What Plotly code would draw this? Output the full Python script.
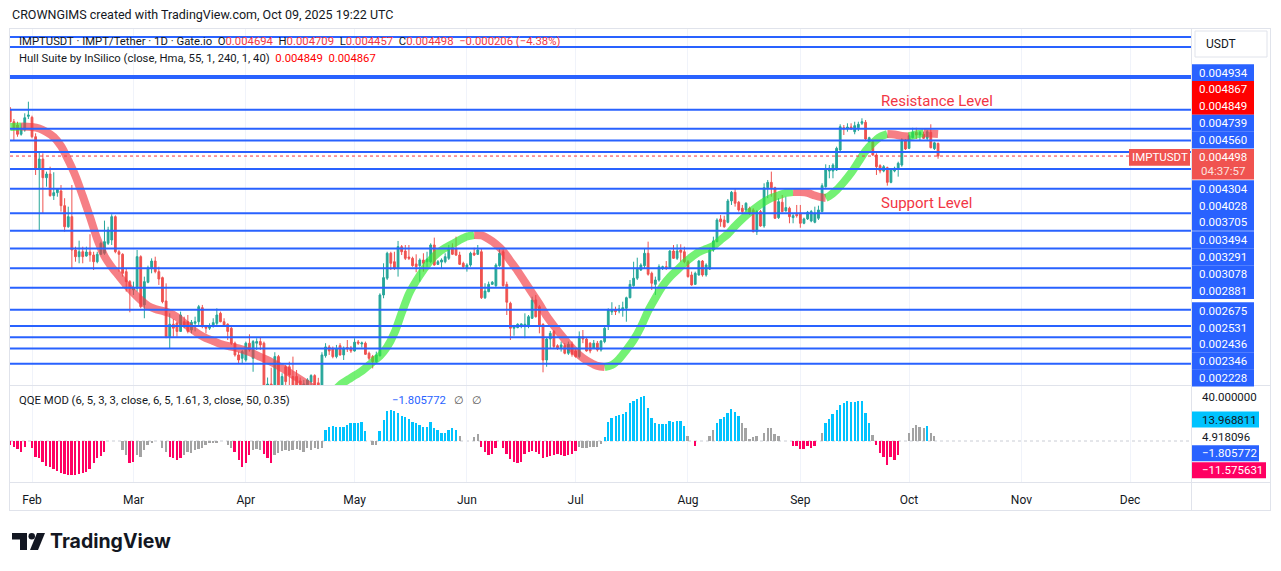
import numpy as np
import pandas as pd
import plotly.graph_objects as go

W, H = 1281, 571
FONT = "Roboto, 'Liberation Sans', sans-serif"
TXT = "#131722"
BLUE = "#2962FF"
RED = "#F23645"
UP = "#26A69A"
DOWN = "#EF5350"

# ---------------- data: daily IMPT/USDT candles, 2025-01-26 .. 2025-10-09 ----------------
FIRST_DAY = "2025-01-26"
open_ = [0.005274, 0.005052, 0.004996, 0.004842, 0.004912, 0.005145, 0.005127, 0.004802, 0.004306, 0.004453,
         0.004180, 0.004233, 0.003934, 0.003974, 0.003997, 0.003803, 0.003541, 0.003664, 0.003273, 0.003200,
         0.003254, 0.003207, 0.003251, 0.003218, 0.003146, 0.003226, 0.003237, 0.003348, 0.003386, 0.003664,
         0.003254, 0.003226, 0.003042, 0.002941, 0.002859, 0.002875, 0.003200, 0.002718, 0.002935, 0.003083,
         0.003153, 0.003042, 0.002981, 0.002755, 0.002441, 0.002546, 0.002557, 0.002485, 0.002568, 0.002568,
         0.002497, 0.002554, 0.002568, 0.002693, 0.002526, 0.002512, 0.002532, 0.002554, 0.002642, 0.002568,
         0.002546, 0.002512, 0.002388, 0.002295, 0.002269, 0.002256, 0.002388, 0.002269, 0.002388, 0.002401,
         0.002388, 0.002024, 0.002080, 0.002004, 0.002282, 0.002024, 0.002205, 0.002205, 0.002133, 0.002133,
         0.002102, 0.002052, 0.002059, 0.002095, 0.002140, 0.002088, 0.002052, 0.002289, 0.002358, 0.002342,
         0.002282, 0.002368, 0.002295, 0.002353, 0.002350, 0.002326, 0.002398, 0.002382, 0.002388, 0.002308,
         0.002282, 0.002243, 0.002289, 0.002811, 0.002975, 0.003237, 0.003146, 0.003077, 0.003310, 0.003262,
         0.003196, 0.003182, 0.003122, 0.003104, 0.003164, 0.003146, 0.003146, 0.003329, 0.003118, 0.003142,
         0.003146, 0.003182, 0.003299, 0.003284, 0.003218, 0.003129, 0.003077, 0.003111, 0.003240, 0.003226,
         0.003254, 0.002785, 0.002843, 0.002914, 0.002901, 0.003104, 0.003254, 0.002914, 0.002733, 0.002512,
         0.002517, 0.002532, 0.002526, 0.002526, 0.002598, 0.002764, 0.002702, 0.002546, 0.002256, 0.002422,
         0.002485, 0.002368, 0.002353, 0.002368, 0.002308, 0.002379, 0.002326, 0.002282, 0.002441, 0.002422,
         0.002388, 0.002347, 0.002388, 0.002334, 0.002401, 0.002526, 0.002654, 0.002672, 0.002663, 0.002672,
         0.002687, 0.002785, 0.002901, 0.002975, 0.003059, 0.003104, 0.003237, 0.003025, 0.002914, 0.002957,
         0.003077, 0.003093, 0.003077, 0.003262, 0.003182, 0.003273, 0.003254, 0.003146, 0.003008, 0.002914,
         0.003008, 0.003153, 0.003008, 0.003069, 0.003273, 0.003367, 0.003636, 0.003623, 0.003595, 0.003864,
         0.003979, 0.003847, 0.003770, 0.003748, 0.003770, 0.003748, 0.003482, 0.003727, 0.003550, 0.004041,
         0.004115, 0.004041, 0.003652, 0.003847, 0.003736, 0.003770, 0.003652, 0.003694, 0.003706, 0.003583,
         0.003636, 0.003611, 0.003595, 0.003644, 0.003727, 0.004055, 0.004276, 0.004276, 0.004291, 0.004591,
         0.004950, 0.004929, 0.004962, 0.004884, 0.004950, 0.005025, 0.005042, 0.004722, 0.004722, 0.004514,
         0.004354, 0.004276, 0.004324, 0.004115, 0.004276, 0.004306, 0.004364, 0.004733, 0.004617, 0.004786,
         0.004874, 0.004830, 0.004842, 0.004776, 0.004874, 0.004612, 0.004694]
high = [0.005310, 0.005099, 0.005052, 0.005025, 0.005198, 0.005406, 0.005156, 0.004858, 0.004564, 0.004540,
        0.004267, 0.004339, 0.004258, 0.004033, 0.004078, 0.003900, 0.003790, 0.004078, 0.003310, 0.003378,
        0.003310, 0.003310, 0.003452, 0.003254, 0.003254, 0.003367, 0.003615, 0.003541, 0.003694, 0.003680,
        0.003273, 0.003237, 0.003077, 0.002957, 0.002941, 0.003273, 0.003215, 0.002991, 0.003104, 0.003182,
        0.003200, 0.003093, 0.002991, 0.002924, 0.002642, 0.002592, 0.002568, 0.002657, 0.002612, 0.002627,
        0.002583, 0.002612, 0.002718, 0.002718, 0.002540, 0.002554, 0.002598, 0.002687, 0.002657, 0.002598,
        0.002554, 0.002526, 0.002401, 0.002321, 0.002334, 0.002401, 0.002461, 0.002414, 0.002428, 0.002433,
        0.002401, 0.002126, 0.002198, 0.002316, 0.002295, 0.002157, 0.002218, 0.002243, 0.002282, 0.002181,
        0.002126, 0.002109, 0.002121, 0.002150, 0.002150, 0.002124, 0.002316, 0.002388, 0.002374, 0.002361,
        0.002374, 0.002388, 0.002361, 0.002414, 0.002366, 0.002428, 0.002414, 0.002401, 0.002401, 0.002321,
        0.002295, 0.002321, 0.002827, 0.003129, 0.003254, 0.003254, 0.003254, 0.003375, 0.003329, 0.003329,
        0.003329, 0.003200, 0.003226, 0.003182, 0.003237, 0.003254, 0.003348, 0.003413, 0.003164, 0.003182,
        0.003237, 0.003329, 0.003348, 0.003424, 0.003254, 0.003146, 0.003129, 0.003254, 0.003299, 0.003329,
        0.003292, 0.002925, 0.002941, 0.002947, 0.003129, 0.003284, 0.003284, 0.002941, 0.002748, 0.002540,
        0.002554, 0.002554, 0.002642, 0.002627, 0.002795, 0.002811, 0.002718, 0.002554, 0.002433, 0.002489,
        0.002497, 0.002379, 0.002401, 0.002388, 0.002401, 0.002401, 0.002347, 0.002485, 0.002497, 0.002433,
        0.002396, 0.002414, 0.002406, 0.002414, 0.002526, 0.002687, 0.002743, 0.002702, 0.002718, 0.002748,
        0.002795, 0.002957, 0.003146, 0.003189, 0.003129, 0.003284, 0.003367, 0.003042, 0.002991, 0.003118,
        0.003104, 0.003153, 0.003273, 0.003329, 0.003337, 0.003337, 0.003310, 0.003164, 0.003042, 0.003042,
        0.003164, 0.003164, 0.003129, 0.003299, 0.003424, 0.003644, 0.003685, 0.003676, 0.003890, 0.003997,
        0.004024, 0.003864, 0.003812, 0.003847, 0.003790, 0.003770, 0.003748, 0.003748, 0.004102, 0.004148,
        0.004267, 0.004055, 0.003900, 0.003943, 0.003920, 0.003790, 0.003706, 0.003812, 0.003812, 0.003652,
        0.003736, 0.003748, 0.003790, 0.003803, 0.004102, 0.004374, 0.004364, 0.004389, 0.004643, 0.005008,
        0.004996, 0.005025, 0.005025, 0.005052, 0.005052, 0.005111, 0.005081, 0.004802, 0.004749, 0.004540,
        0.004374, 0.004364, 0.004339, 0.004306, 0.004339, 0.004413, 0.004776, 0.004765, 0.004842, 0.004950,
        0.004950, 0.004895, 0.004884, 0.004912, 0.005008, 0.004722, 0.004709]
low = [0.005039, 0.004733, 0.004802, 0.004819, 0.004884, 0.005099, 0.004776, 0.004219, 0.003502, 0.003706,
       0.004055, 0.003920, 0.003877, 0.003920, 0.003727, 0.003482, 0.003529, 0.003069, 0.003146, 0.003129,
       0.003129, 0.003200, 0.003146, 0.003059, 0.003129, 0.003218, 0.003220, 0.003329, 0.003329, 0.003237,
       0.003042, 0.002991, 0.002843, 0.002651, 0.002811, 0.002843, 0.002687, 0.002598, 0.002925, 0.003025,
       0.003025, 0.002908, 0.002733, 0.002428, 0.002348, 0.002441, 0.002441, 0.002480, 0.002512, 0.002469,
       0.002469, 0.002485, 0.002540, 0.002512, 0.002469, 0.002497, 0.002517, 0.002526, 0.002563, 0.002534,
       0.002414, 0.002374, 0.002282, 0.002231, 0.002231, 0.002243, 0.002321, 0.002168, 0.002334, 0.002334,
       0.001970, 0.001970, 0.001970, 0.001970, 0.001984, 0.001997, 0.002066, 0.002052, 0.002004, 0.002018,
       0.002024, 0.002024, 0.002038, 0.002066, 0.002038, 0.002038, 0.002024, 0.002274, 0.002295, 0.002269,
       0.002269, 0.002289, 0.002256, 0.002318, 0.002311, 0.002321, 0.002374, 0.002353, 0.002295, 0.002256,
       0.002193, 0.002231, 0.002282, 0.002780, 0.002957, 0.003059, 0.003059, 0.002991, 0.003218, 0.003164,
       0.003164, 0.003093, 0.003036, 0.002941, 0.003042, 0.003093, 0.003129, 0.003104, 0.003111, 0.003069,
       0.003129, 0.003164, 0.003218, 0.003207, 0.003111, 0.003077, 0.003042, 0.003093, 0.003207, 0.003218,
       0.002773, 0.002773, 0.002837, 0.002908, 0.002881, 0.003093, 0.002891, 0.002627, 0.002414, 0.002449,
       0.002512, 0.002512, 0.002428, 0.002512, 0.002592, 0.002604, 0.002469, 0.002164, 0.002205, 0.002348,
       0.002348, 0.002334, 0.002321, 0.002300, 0.002295, 0.002282, 0.002274, 0.002269, 0.002388, 0.002321,
       0.002308, 0.002342, 0.002321, 0.002321, 0.002388, 0.002497, 0.002627, 0.002627, 0.002642, 0.002612,
       0.002568, 0.002780, 0.002891, 0.002957, 0.003049, 0.003077, 0.003001, 0.002859, 0.002811, 0.002941,
       0.003059, 0.003059, 0.003069, 0.003175, 0.003164, 0.003146, 0.003129, 0.002981, 0.002901, 0.002908,
       0.003001, 0.002991, 0.002991, 0.003059, 0.003254, 0.003360, 0.003541, 0.003529, 0.003583, 0.003812,
       0.003790, 0.003727, 0.003706, 0.003727, 0.003685, 0.003475, 0.003444, 0.003541, 0.003529, 0.003900,
       0.003920, 0.003636, 0.003636, 0.003719, 0.003727, 0.003583, 0.003583, 0.003652, 0.003529, 0.003571,
       0.003623, 0.003595, 0.003583, 0.003623, 0.003719, 0.004041, 0.004172, 0.004172, 0.004276, 0.004575,
       0.004830, 0.004884, 0.004912, 0.004842, 0.004895, 0.004996, 0.004749, 0.004713, 0.004503, 0.004219,
       0.004243, 0.004258, 0.004069, 0.004102, 0.004258, 0.004195, 0.004339, 0.004591, 0.004607, 0.004776,
       0.004765, 0.004749, 0.004765, 0.004749, 0.004617, 0.004591, 0.004457]
close = [0.005052, 0.004940, 0.004842, 0.004940, 0.005120, 0.005168, 0.004802, 0.004306, 0.004453, 0.004180,
         0.004233, 0.003934, 0.003974, 0.004019, 0.003803, 0.003541, 0.003664, 0.003273, 0.003200, 0.003254,
         0.003200, 0.003251, 0.003218, 0.003146, 0.003226, 0.003348, 0.003367, 0.003502, 0.003664, 0.003254,
         0.003226, 0.003025, 0.002941, 0.002875, 0.002881, 0.003200, 0.002702, 0.002941, 0.003083, 0.003153,
         0.003042, 0.002967, 0.002748, 0.002441, 0.002546, 0.002512, 0.002485, 0.002627, 0.002540, 0.002485,
         0.002563, 0.002568, 0.002702, 0.002526, 0.002512, 0.002534, 0.002560, 0.002627, 0.002568, 0.002540,
         0.002485, 0.002388, 0.002295, 0.002256, 0.002321, 0.002388, 0.002334, 0.002401, 0.002401, 0.002374,
         0.002024, 0.002080, 0.002024, 0.002282, 0.002024, 0.002133, 0.002097, 0.002145, 0.002052, 0.002066,
         0.002066, 0.002080, 0.002109, 0.002140, 0.002066, 0.002066, 0.002295, 0.002358, 0.002326, 0.002282,
         0.002342, 0.002295, 0.002347, 0.002342, 0.002326, 0.002396, 0.002388, 0.002390, 0.002300, 0.002269,
         0.002243, 0.002295, 0.002811, 0.002981, 0.003237, 0.003129, 0.003077, 0.003310, 0.003254, 0.003182,
         0.003182, 0.003104, 0.003093, 0.003164, 0.003129, 0.003175, 0.003329, 0.003111, 0.003146, 0.003164,
         0.003200, 0.003292, 0.003226, 0.003218, 0.003118, 0.003093, 0.003111, 0.003237, 0.003218, 0.003273,
         0.002785, 0.002849, 0.002914, 0.002935, 0.003111, 0.003237, 0.002901, 0.002743, 0.002512, 0.002526,
         0.002546, 0.002549, 0.002546, 0.002612, 0.002764, 0.002612, 0.002540, 0.002256, 0.002422, 0.002469,
         0.002361, 0.002347, 0.002374, 0.002308, 0.002379, 0.002300, 0.002282, 0.002441, 0.002422, 0.002326,
         0.002326, 0.002388, 0.002334, 0.002406, 0.002512, 0.002672, 0.002672, 0.002657, 0.002681, 0.002693,
         0.002785, 0.002914, 0.002975, 0.003077, 0.003111, 0.003237, 0.003015, 0.002925, 0.002957, 0.003093,
         0.003093, 0.003077, 0.003262, 0.003182, 0.003262, 0.003248, 0.003146, 0.002991, 0.002908, 0.003025,
         0.003153, 0.003008, 0.003111, 0.003273, 0.003375, 0.003623, 0.003601, 0.003541, 0.003864, 0.003979,
         0.003834, 0.003748, 0.003727, 0.003834, 0.003706, 0.003482, 0.003727, 0.003550, 0.004041, 0.004115,
         0.004041, 0.003644, 0.003855, 0.003727, 0.003778, 0.003664, 0.003676, 0.003676, 0.003583, 0.003636,
         0.003719, 0.003727, 0.003706, 0.003748, 0.004069, 0.004291, 0.004316, 0.004364, 0.004617, 0.004967,
         0.004929, 0.004962, 0.004929, 0.004985, 0.005008, 0.005052, 0.004765, 0.004786, 0.004514, 0.004339,
         0.004276, 0.004339, 0.004115, 0.004291, 0.004316, 0.004389, 0.004749, 0.004607, 0.004819, 0.004874,
         0.004830, 0.004874, 0.004776, 0.004884, 0.004627, 0.004704, 0.004498]

# Hull Suite (HMA 55) centre line, sampled: day offset from 2025-02-01 and price
hull_day = [-6, -3, 0, 2, 4, 6, 8, 10, 12, 14, 16, 18, 20, 22, 24, 26, 28, 30, 32, 34, 36, 38, 40, 42, 44,
            46, 48, 50, 52, 54, 57, 60, 63, 66, 69, 72, 75, 78, 81, 83, 85, 88, 91, 94, 96, 98, 100, 102,
            104, 106, 108, 110, 112, 114, 116, 118, 120, 122, 124, 126, 128, 130, 132, 134, 136, 138, 140,
            142, 144, 146, 148, 150, 152, 154, 156, 158, 160, 162, 164, 166, 168, 170, 172, 174, 176, 178,
            180, 182, 184, 186, 188, 190, 192, 194, 196, 198, 200, 202, 204, 206, 208, 210, 212, 214, 216,
            218, 219, 220, 222, 224, 226, 228, 230, 232, 234, 236, 238, 240, 242, 244, 246, 248, 250]
hull_value = [0.004962, 0.004971, 0.004962, 0.004937, 0.004879, 0.004798, 0.004653, 0.004438, 0.004205,
              0.003930, 0.003660, 0.003397, 0.003207, 0.003090, 0.002998, 0.002908, 0.002830, 0.002764,
              0.002709, 0.002681, 0.002663, 0.002645, 0.002609, 0.002557, 0.002506, 0.002463, 0.002430,
              0.002406, 0.002382, 0.002366, 0.002346, 0.002318, 0.002280, 0.002241, 0.002196, 0.002145,
              0.002095, 0.002045, 0.002018, 0.002024, 0.002073, 0.002124, 0.002174, 0.002241, 0.002287,
              0.002358, 0.002472, 0.002645, 0.002821, 0.002947, 0.003059, 0.003164, 0.003240, 0.003296,
              0.003340, 0.003386, 0.003426, 0.003444, 0.003438, 0.003397, 0.003340, 0.003262, 0.003153,
              0.003049, 0.002937, 0.002830, 0.002727, 0.002618, 0.002532, 0.002455, 0.002382, 0.002318,
              0.002272, 0.002237, 0.002211, 0.002203, 0.002218, 0.002264, 0.002334, 0.002414, 0.002523,
              0.002663, 0.002783, 0.002898, 0.002988, 0.003059, 0.003132, 0.003196, 0.003251, 0.003284,
              0.003318, 0.003386, 0.003455, 0.003550, 0.003636, 0.003716, 0.003787, 0.003851, 0.003904,
              0.003936, 0.003970, 0.003984, 0.003982, 0.003970, 0.003936, 0.003910, 0.003904, 0.003930,
              0.004010, 0.004120, 0.004248, 0.004408, 0.004575, 0.004701, 0.004798, 0.004846, 0.004838,
              0.004814, 0.004806, 0.004838, 0.004862, 0.004854, 0.004846]
HULL_LAST = [0.004849, 0.004867]

# horizontal levels drawn on the chart
levels = [0.006729, 0.006505, 0.005897, 0.005857, 0.005262, 0.004934, 0.004739, 0.004560, 0.004304,
          0.004028, 0.003705, 0.003494, 0.003291, 0.003078, 0.002881, 0.002675, 0.002531, 0.002436,
          0.002346, 0.002228]
# levels whose price tags are visible on the price scale
tagged_levels = [0.004934, 0.004739, 0.004560, 0.004304, 0.004028, 0.003705, 0.003494, 0.003291,
                 0.003078, 0.002881, 0.002675, 0.002531, 0.002436, 0.002346, 0.002228]

# QQE MOD histogram (one bar per candle) and colour state: c=cyan, g=gray, p=pink
qqe = [-4, -5.2, -7, -9.7, -5.2, 0, -6.7, -14.2, -15.8, -18.8,
       -22.7, -24, -25.5, -27, -28.8, -29.7, -30.6, -30.9, -30.9, -30.3,
       -29.4, -27.9, -25, -20, -15.8, -14, -10, 0, 0, 0,
       0, -8.2, -12.7, -20.3, -18.8, -12.7, -14.2, -8.2, -3.6, -1,
       0, 0, -6.7, -9.7, -14.2, -15.8, -17.3, -15.8, -12.7, -9.7,
       -10.6, -8.2, -7, -6.7, -3.6, -2.1, -2.1, -1.5, 0, 0,
       -3.6, -6.7, -9.7, -17.3, -24, -20, -13, -8, -7, -8.5,
       -11.5, -15, -20.3, -13, -11.2, -9, -8.2, -8.8, -8.2, -7.6,
       -8.2, -9.7, -6.7, -8.2, -6.7, -7.6, -6, 10, 13, 13.6,
       13, 13, 13, 14.5, 16, 16, 16.7, 17, 9.4, 0,
       -3.6, -3.6, 9.4, 19, 27.6, 28.2, 27.6, 25.8, 22.7, 21.5,
       19.7, 17, 16, 14.5, 13, 13, 17.6, 12, 10, 7.6,
       7.6, 10, 11.5, 10, 4.5, 0, 0, 0, 3.3, 6.4,
       -5.2, -9.7, -12.7, -11.8, -6.7, 0, -6.7, -11.8, -16.7, -18.8,
       -19.7, -18.8, -12, -9.7, -8.8, -9.7, -12, -15.8, -14.2, -13.6,
       -12.7, -11.8, -12.7, -13.6, -12.5, -11.8, -8.8, -5.2, -6.7, -6.7,
       -5.2, -5.2, -5.2, -3, 3.3, 17.6, 20.6, 22.7, 23.6, 25,
       26.7, 34.2, 36.7, 38, 39.7, 40.9, 29.7, 21.2, 16, 15.2,
       15.2, 15.2, 18.2, 17.6, 18.2, 18.2, 13.6, 4.5, 0, -4.2,
       0, 0, 0, 4.5, 10, 16.7, 19.7, 22, 25.8, 28.8,
       26.4, 22.7, 16.7, 11.5, 2, 3.9, 4.5, 0, 7, 11.5,
       11.5, 6, 4.5, 0, 0, 0, -4.2, -4.2, -7.3, -7.3,
       -4.2, -6, -4.2, 0, 7.6, 16, 19.7, 24.2, 28.2, 32.7,
       34.2, 36, 35.5, 35.5, 36.4, 36.4, 25.2, 16.7, 5.5, -3.6,
       -11.2, -14.8, -21.8, -14.2, -17.3, -12.7, 0, 0, 7.6, 11.5,
       14.5, 13, 12.1, 13.6, 7.6, 4.5, 0]
qqe_state = ("pppppgpppp" "pppppppppp" "pppppppggg" "gggppggggg" "ggggppppgg"
             "gggggggggg" "ggpppppggg" "pppggggggg" "gggggggccc" "cccccccccg"
             "ggcccccccc" "cccccccccc" "ccccgggggg" "pppppgpppp" "pppppppppp"
             "pppppppggg" "ggggcccccc" "cccccccccc" "cccccccggp" "gggggccccc"
             "ccgggggggg" "ggggggpppp" "pppggccccc" "ccccccccgp" "ppppppgggg"
             "gggcggg")
QQE_TAGS = [("40.000000", None), ("13.968811", "#00C3FF"), ("4.918096", None),
            ("\u22121.805772", BLUE), ("\u221211.575631", "#FF0062")]
QQE_PARAMS = "QQE MOD (6, 5, 3, 3, close, 6, 5, 1.61, 3, close, 50, 0.35)"

months = ["2025-02-01", "2025-03-01", "2025-04-01", "2025-05-01", "2025-06-01", "2025-07-01",
          "2025-08-01", "2025-09-01", "2025-10-01", "2025-11-01", "2025-12-01"]
month_labels = ["Feb", "Mar", "Apr", "May", "Jun", "Jul", "Aug", "Sep", "Oct", "Nov", "Dec"]

# ---------------- figure ----------------
dates = pd.date_range(FIRST_DAY, periods=len(close), freq="D")
hull_x = pd.Timestamp("2025-02-01") + pd.to_timedelta(hull_day, unit="D")


def px(x):
    return x / W


def py(y):
    return 1 - y / H


fig = go.Figure()

# Hull band: split into rising (green) / falling (red) runs
hv = np.array(hull_value)
dirs = np.sign(np.diff(hv))
runs = []
s = 0
for i in range(1, len(dirs) + 1):
    if i == len(dirs) or dirs[i] != dirs[s]:
        runs.append((s, i, dirs[s]))
        s = i
for a, b, d in runs:
    col = "rgba(50,235,50,0.68)" if d > 0 else "rgba(242,60,70,0.66)"
    fig.add_trace(go.Scatter(x=hull_x[a:b + 1], y=hv[a:b + 1], mode="lines",
                             line=dict(color=col, width=8, shape="spline", smoothing=0.8),
                             hoverinfo="skip", showlegend=False, xaxis="x", yaxis="y"))

fig.add_trace(go.Candlestick(x=dates, open=open_, high=high, low=low, close=close,
                             increasing=dict(line=dict(color=UP, width=1), fillcolor=UP),
                             decreasing=dict(line=dict(color=DOWN, width=1), fillcolor=DOWN),
                             whiskerwidth=0, showlegend=False, xaxis="x", yaxis="y"))

cmap = {"c": "#00C3FF", "g": "#A3A3A3", "p": "#FF0062"}
fig.add_trace(go.Bar(x=dates, y=qqe, marker=dict(color=[cmap[c] for c in qqe_state], line_width=0),
                     width=0.55 * 86400000, showlegend=False, xaxis="x", yaxis="y2"))

shapes = []
ann = []


def text(x, y, s, size=11.5, color=TXT, xanchor="left", yanchor="middle", family=FONT):
    ann.append(dict(x=px(x), y=py(y), xref="paper", yref="paper", text=s, showarrow=False,
                    xanchor=xanchor, yanchor=yanchor, font=dict(size=size, color=color, family=family)))


def rect(x0, y0, x1, y1, fill, line="rgba(0,0,0,0)", layer="above"):
    shapes.append(dict(type="rect", xref="paper", yref="paper", x0=px(x0), x1=px(x1), y0=py(y1), y1=py(y0),
                       fillcolor=fill, line=dict(color=line, width=1), layer=layer))


def hline(x0, x1, y, color="#E0E3EB", width=1):
    shapes.append(dict(type="line", xref="paper", yref="paper", x0=px(x0), x1=px(x1), y0=py(y), y1=py(y),
                       line=dict(color=color, width=width)))


def vline(x, y0, y1, color="#E0E3EB", width=1):
    shapes.append(dict(type="line", xref="paper", yref="paper", x0=px(x), x1=px(x), y0=py(y0), y1=py(y1),
                       line=dict(color=color, width=width)))


# user-drawn levels
for v in levels:
    shapes.append(dict(type="line", xref="paper", yref="y", x0=px(10), x1=px(1191), y0=v, y1=v,
                       line=dict(color=BLUE, width=2)))
# last-price dotted line
shapes.append(dict(type="line", xref="paper", yref="y", x0=px(10), x1=px(1129), y0=close[-1], y1=close[-1],
                   line=dict(color=RED, width=1, dash="dot")))
# QQE zero line
shapes.append(dict(type="line", xref="paper", yref="y2", x0=px(10), x1=px(1191), y0=0, y1=0,
                   line=dict(color="#C9CCD4", width=1, dash="dot"), layer="below"))

# frame
hline(9, 1271, 28.5)
hline(9, 1271, 385.5)
hline(9, 1271, 482.5)
hline(9, 1271, 510.5)
vline(9.5, 28, 510)
vline(1191.5, 28, 510)
vline(1270.5, 28, 510)

# price-scale tags (stacked like the original scale)
tag_rows = [(f"{tagged_levels[0]:.6f}", 72.7, BLUE), (f"{HULL_LAST[1]:.6f}", 89.5, "#FF0000"),
            (f"{HULL_LAST[0]:.6f}", 106.4, "#FF0000"), (f"{tagged_levels[1]:.6f}", 123.3, BLUE),
            (f"{tagged_levels[2]:.6f}", 140.1, BLUE)]
for s_, yc in zip(tagged_levels[3:], [188.7, 205.5, 222.4, 239.7, 256.7, 273.6, 290.5, 310.7, 327.5,
                                        344.4, 361.3, 378.0]):
    tag_rows.append((f"{s_:.6f}", yc, BLUE))
for s_, yc, col in tag_rows:
    rect(1192, yc - 8.45, 1254, yc + 8.45, col)
    text(1223, yc, s_, color="white", xanchor="center")
# current price tag with countdown
rect(1192, 148.9, 1254, 179.6, "#F05350")
text(1223, 157.4, f"{close[-1]:.6f}", color="white", xanchor="center")
text(1223, 171.4, "04:37:57", color="#FBE0DF", xanchor="center")
rect(1129, 149, 1190, 165.8, "#F05350")
text(1160, 157.4, "IMPTUSDT", color="white", xanchor="center")
# currency box
rect(1195, 31, 1267, 57, "white", line="#E0E3EB")
text(1204, 44, "USDT", size=12)

# QQE scale tags
qqe_rows = [(397.3, None, 1255), (419.5, "#00C3FF", 1259), (436.8, None, 1255), (453.2, BLUE, 1259),
            (470.2, "#FF0062", 1266)]
for (lbl, col), (yc, bg, xr) in zip(QQE_TAGS, qqe_rows):
    if col is not None:
        rect(1192, yc - 8.0, xr, yc + 8.0, col)
    fc = "white" if col in (BLUE, "#FF0062") else TXT
    text(1200, yc, lbl, color=fc)

# headers / legends
o, hh, ll, cc = open_[-1], high[-1], low[-1], close[-1]
chg = cc - close[-2]
pct = chg / close[-2] * 100
sp = lambda v: f"<span style='color:{RED}'>{v}</span>"
text(10, 14, "CROWNGIMS created with TradingView.com, Oct 09, 2025 19:22 UTC", size=12.5)
text(17, 41.5, "IMPTUSDT · IMPT/Tether · 1D · Gate.io  O" + sp(f"{o:.6f}") + "  H" + sp(f"{hh:.6f}")
     + "  L" + sp(f"{ll:.6f}") + "  C" + sp(f"{cc:.6f}") + "  "
     + sp(f"\u2212{abs(chg):.6f} (\u2212{abs(pct):.2f}%)"), size=11.3)
text(17, 58, "Hull Suite by InSilico (close, Hma, 55, 1, 240, 1, 40)  "
     + f"<span style='color:#FF0000'>{HULL_LAST[0]:.6f}</span>  "
     + f"<span style='color:#FF0000'>{HULL_LAST[1]:.6f}</span>", size=11.3)
text(17, 400, QQE_PARAMS, size=11.3)
text(390, 400, QQE_TAGS[3][0], size=11.3, color=BLUE)
text(452, 400, "\u2205", size=11.3, color="#555")
text(470, 400, "\u2205", size=11.3, color="#555")
text(879, 101, "Resistance Level", size=15, color=RED)
text(879, 203, "Support Level", size=15, color=RED)

# TradingView logo
shapes.append(dict(type="path", xref="paper", yref="paper", fillcolor=TXT, line=dict(width=0),
                   path=f"M {px(12)},{py(533)} L {px(27)},{py(533)} L {px(27)},{py(550)} L {px(20)},{py(550)} "
                        f"L {px(20)},{py(539.5)} L {px(12)},{py(539.5)} Z"))
shapes.append(dict(type="circle", xref="paper", yref="paper", fillcolor=TXT, line=dict(width=0),
                   x0=px(28.5), x1=px(35), y0=py(539.5), y1=py(533)))
shapes.append(dict(type="path", xref="paper", yref="paper", fillcolor=TXT, line=dict(width=0),
                   path=f"M {px(37)},{py(533)} L {px(45)},{py(533)} L {px(38)},{py(550)} L {px(30)},{py(550)} Z"))
text(48, 541, "<b>TradingView</b>", size=19.5, family="Inter, Roboto, sans-serif")

fig.update_layout(
    width=W, height=H, autosize=False, margin=dict(l=0, r=0, t=0, b=0),
    paper_bgcolor="white", plot_bgcolor="white", showlegend=False, bargap=0,
    font=dict(family=FONT, color=TXT, size=12),
    xaxis=dict(type="date", domain=[px(10), px(1191)], anchor="y2",
               range=["2025-01-25 22:19", "2025-12-17 19:00"],
               tickvals=months, ticktext=month_labels, tickfont=dict(size=12, color=TXT),
               ticks="outside", ticklen=7, tickcolor="rgba(0,0,0,0)",
               showgrid=True, gridcolor="#F0F3FA", gridwidth=1, zeroline=False, showline=False,
               rangeslider=dict(visible=False), fixedrange=True),
    yaxis=dict(type="log", domain=[py(385), py(28)], anchor="x",
               range=[np.log10(0.002073), np.log10(0.006937)],
               showticklabels=False, showgrid=False, zeroline=False, showline=False, fixedrange=True),
    yaxis2=dict(domain=[py(482), py(386)], anchor="x", range=[-37.27, 50],
                showticklabels=False, showgrid=False, zeroline=False, showline=False, fixedrange=True),
    shapes=shapes, annotations=ann,
)

fig.write_html("out.html", config={"displayModeBar": False})
